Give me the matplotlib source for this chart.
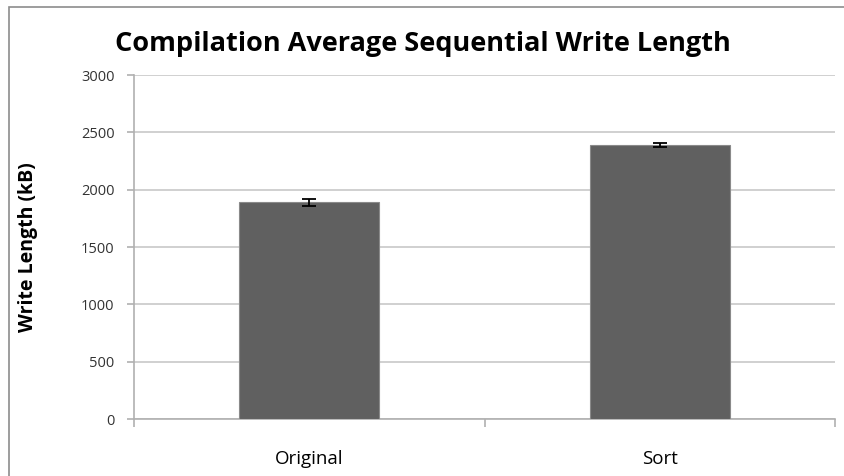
import matplotlib.pyplot as plt
from matplotlib.patches import Rectangle

categories = ['Original', 'Sort']
write_length = [1890, 2388]
errors = [32, 18]

plt.rcParams['font.family'] = ['Open Sans', 'DejaVu Sans']

fig = plt.figure(figsize=(8.45, 4.76), dpi=100)
ax = fig.add_axes([0.1586, 0.1197, 0.8300, 0.7227])

xs = range(len(categories))
ax.bar(xs, write_length, width=0.4, color='#606060', edgecolor='#8a8a8a',
       linewidth=0.8, zorder=3)
ax.errorbar(xs, write_length, yerr=errors, fmt='none', ecolor='black',
            elinewidth=1.3, capsize=5, capthick=1.3, zorder=4)

ax.set_xlim(-0.5, 1.5)
ax.set_ylim(0, 3000)
ax.set_yticks(range(0, 3001, 500))
ax.yaxis.grid(True, color='#c8c8c8', linewidth=1.2, zorder=0)

ax.set_xticks([-0.5, 0.5, 1.5])
ax.set_xticklabels([])
ax.set_xticks(list(xs), minor=True)
ax.set_xticklabels(categories, minor=True, fontsize=13.5)
ax.tick_params(axis='x', which='minor', length=0, pad=22)
ax.tick_params(axis='x', which='major', length=6, color='#b0b0b0', width=1.2)
ax.tick_params(axis='y', length=5, color='#b0b0b0', width=1.2, labelsize=10.5,
               labelcolor='#333333', pad=9)

for side in ['top', 'right']:
    ax.spines[side].set_visible(False)
for side in ['left', 'bottom']:
    ax.spines[side].set_color('#b0b0b0')
    ax.spines[side].set_linewidth(1.2)

ax.set_ylabel('Write Length (kB)', fontsize=14, fontweight='bold')
ax.yaxis.set_label_coords(-0.137, 0.5)
fig.suptitle('Compilation Average Sequential Write Length', fontsize=19.5,
             fontweight='bold', x=0.5, y=0.935)

fig.patches.append(Rectangle((9 / 845, -0.1), 1.2, (476 - 7) / 476 + 0.1,
                             transform=fig.transFigure, fill=False,
                             edgecolor='#8c8c8c', linewidth=1.2))

fig.savefig('out.png', dpi=100)
